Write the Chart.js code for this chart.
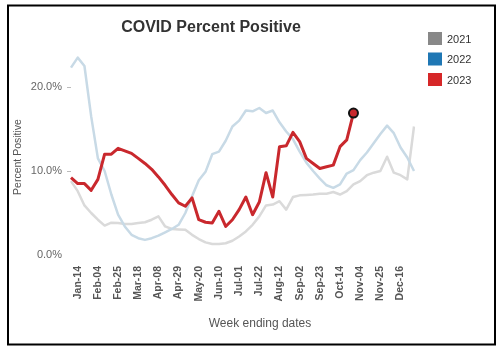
<!DOCTYPE html>
<html>
<head>
<meta charset="utf-8">
<script src="https://cdn.jsdelivr.net/npm/chart.js@4.4.0/dist/chart.umd.min.js"></script>
<style>
  html, body { margin: 0; padding: 0; background: #fff; }
  canvas { display: block; }
</style>
</head>
<body>
<canvas id="myChart" width="502" height="350"></canvas>
<script>
const FONT = '"Liberation Sans", Arial, sans-serif';

// week ending dates (52 weeks)
const weeks = ["Jan-07","Jan-14","Jan-21","Jan-28","Feb-04","Feb-11","Feb-18","Feb-25",
  "Mar-04","Mar-11","Mar-18","Mar-25","Apr-01","Apr-08","Apr-15","Apr-22","Apr-29",
  "May-06","May-13","May-20","May-27","Jun-03","Jun-10","Jun-17","Jun-24",
  "Jul-01","Jul-08","Jul-15","Jul-22","Jul-29","Aug-05","Aug-12","Aug-19","Aug-26",
  "Sep-02","Sep-09","Sep-16","Sep-23","Sep-30","Oct-07","Oct-14","Oct-21","Oct-28",
  "Nov-04","Nov-11","Nov-18","Nov-25","Dec-02","Dec-09","Dec-16","Dec-23","Dec-30"];

const years = ["2021", "2022", "2023"];

const pos2021 = [8.8, 7.6, 5.9, 5.0, 4.2, 3.5, 3.85, 3.8, 3.7, 3.7,
  3.8, 3.9, 4.2, 4.6, 3.4, 3.1, 3.05, 3.0, 2.4, 1.9,
  1.5, 1.3, 1.3, 1.4, 1.7, 2.2, 2.8, 3.6, 4.6, 5.9,
  6.0, 6.4, 5.4, 6.9, 7.1, 7.15, 7.2, 7.3, 7.3, 7.5,
  7.2, 7.6, 8.4, 8.8, 9.5, 9.8, 10.0, 11.7, 9.8, 9.5,
  9.0, 15.3];

const pos2022 = [22.3, 23.5, 22.5, 16.5, 11.5, 10.0, 7.2, 4.8, 3.4, 2.4,
  2.0, 1.8, 2.0, 2.3, 2.7, 3.1, 3.6, 5.0, 7.0, 8.9,
  9.9, 12.0, 12.3, 13.6, 15.3, 16.0, 17.2, 17.1, 17.5, 16.9,
  17.2, 15.8, 14.7, 13.8, 12.3, 11.0, 10.0, 9.1, 8.3, 8.0,
  8.4, 9.7, 10.1, 11.3, 12.2, 13.3, 14.4, 15.4, 14.5, 12.8,
  11.6, 10.0];

const pos2023 = [9.2, 8.5, 8.5, 7.7, 9.0, 12.0, 12.0, 12.7, 12.4, 12.1,
  11.5, 10.9, 10.2, 9.3, 8.3, 7.2, 6.2, 5.8, 6.8, 4.2,
  3.9, 3.8, 5.2, 3.4, 4.2, 5.4, 6.9, 4.8, 6.3, 9.8,
  6.9, 12.9, 13.0, 14.6, 13.5, 11.5, 10.9, 10.3, 10.5, 10.7,
  12.9, 13.7, 16.9];

const yTicks = [0, 10, 20];

const legendColors = ['#888888', '#1f77b4', '#d62728'];

// frame, legend and axis titles
const extras = {
  id: 'extras',
  beforeDraw(chart) {
    const c = chart.ctx;
    c.save();
    c.fillStyle = '#fff';
    c.fillRect(0, 0, chart.width, chart.height);
    c.restore();
  },
  afterDraw(chart) {
    const c = chart.ctx;
    c.save();
    c.strokeStyle = '#000';
    c.lineWidth = 2;
    c.strokeRect(8, 5.5, 487, 339);

    c.font = '11px ' + FONT;
    c.textBaseline = 'middle';
    c.textAlign = 'left';
    years.forEach((y, i) => {
      c.fillStyle = legendColors[i];
      c.fillRect(428, 32 + i * 20.5, 14, 13);
      c.fillStyle = '#333';
      c.fillText(y, 447, 39.5 + i * 20.5);
    });

    c.fillStyle = '#555';
    c.textAlign = 'center';
    c.font = '12px ' + FONT;
    c.fillText('Week ending dates', 260, 324);
    c.translate(18, 157);
    c.rotate(-Math.PI / 2);
    c.font = '10.5px ' + FONT;
    c.fillText('Percent Positive', 0, 0);
    c.restore();
  }
};

const ctx = document.getElementById('myChart').getContext('2d');

new Chart(ctx, {
  type: 'line',
  data: {
    labels: weeks,
    datasets: [{
      label: years[0],
      data: pos2021,
      borderColor: '#dadada',
      borderWidth: 2.5,
      pointRadius: 0,
      order: 3
    }, {
      label: years[1],
      data: pos2022,
      borderColor: '#c8dae6',
      borderWidth: 2.5,
      pointRadius: 0,
      order: 2
    }, {
      label: years[2],
      data: pos2023,
      borderColor: '#c9282d',
      borderWidth: 3,
      pointRadius: c => c.dataIndex === pos2023.length - 1 ? 4.5 : 0,
      pointBackgroundColor: '#c9282d',
      pointBorderColor: '#111',
      pointBorderWidth: 2,
      order: 1
    }]
  },
  options: {
    responsive: false,
    animation: false,
    elements: { line: { tension: 0, borderJoinStyle: 'round' } },
    layout: { padding: { top: 8, left: 8, right: 88, bottom: 10 } },
    plugins: {
      legend: { display: false },
      tooltip: { enabled: false },
      title: {
        display: true,
        text: 'COVID Percent Positive',
        color: '#333',
        font: { family: FONT, size: 16, weight: 'bold' },
        padding: { top: 10.4, bottom: 7.4 }
      }
    },
    scales: {
      x: {
        type: 'category',
        offset: false,
        grid: { display: false },
        border: { display: false },
        ticks: {
          autoSkip: false,
          minRotation: 90,
          maxRotation: 90,
          padding: 3,
          color: '#555',
          font: { family: FONT, size: 10.5, weight: 'bold' },
          callback: (v, i) => i % 3 === 1 ? weeks[i] : ''
        },
        afterFit: s => { s.height = 85; }
      },
      y: {
        min: 0,
        max: 25,
        border: { display: false },
        grid: {
          drawOnChartArea: false,
          drawTicks: true,
          tickLength: 4,
          color: c => c.tick && c.tick.value === 0 ? 'rgba(0,0,0,0)' : '#bbb'
        },
        ticks: {
          padding: 5,
          color: '#666',
          font: { family: FONT, size: 11 },
          callback: v => v.toFixed(1) + '%'
        },
        afterBuildTicks: s => { s.ticks = yTicks.map(v => ({ value: v })); },
        afterFit: s => { s.width = 63; }
      }
    }
  },
  plugins: [extras]
});
</script>
</body>
</html>
